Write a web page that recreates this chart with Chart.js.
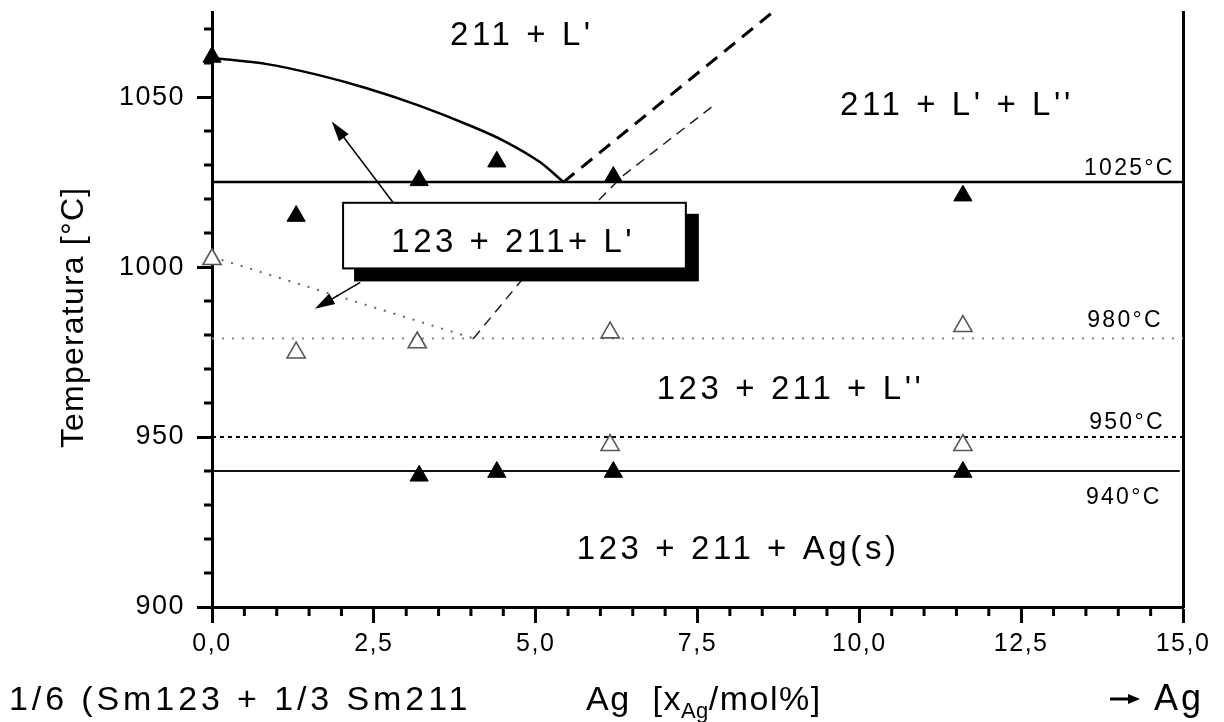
<!DOCTYPE html>
<html>
<head>
<meta charset="utf-8">
<title>Sm123 + Ag phase diagram</title>
<script src="https://cdn.jsdelivr.net/npm/chart.js@4.4.1/dist/chart.umd.min.js"></script>
<style>
  html, body { margin: 0; padding: 0; background: #fff; }
  #wrap { width: 1224px; height: 722px; }
</style>
</head>
<body>
<div id="wrap"><canvas id="phaseChart" width="1224" height="722"></canvas></div>
<script>
// ticks
const xMajorTicks = [0, 2.5, 5, 7.5, 10, 12.5, 15];
const xTickLabels = ["0,0", "2,5", "5,0", "7,5", "10,0", "12,5", "15,0"];
const yMajorTicks = [900, 950, 1000, 1050];
const yTickLabels = ["900", "950", "1000", "1050"];
const xMinorStep = 0.5;
const yMinorStep = 10;

// measured points (filled / open triangles)
const filledX = [0, 1.3, 3.2, 4.4, 6.2, 11.6, 3.2, 4.4, 6.2, 11.6];
const filledT = [1061.8, 1015, 1025.5, 1031, 1026.5, 1021, 938.6, 939.7, 939.7, 939.7];
const openX = [0, 1.3, 3.17, 6.15, 11.6, 6.15, 11.6];
const openT = [1002.3, 974.8, 977.8, 980.7, 982.6, 947.6, 947.6];

// phase boundaries
const liquidusX = [0, 0.85, 1.62, 2.39, 3.2, 4.0, 4.5, 5.07, 5.43];
const liquidusT = [1061.5, 1059.7, 1056.6, 1052.6, 1047.5, 1041.5, 1037.2, 1030.8, 1025];
const missX = [5.43, 8.65];
const missT = [1025, 1074.8];
const miss2X = [4.04, 4.76, 5.97, 6.35, 7.74];
const miss2T = [979, 995.6, 1019.6, 1026.9, 1047.4];
const dottedX = [0, 4.04];
const dottedT = [1003, 979];

// isotherms
const isoX = [0, 15];
const iso940X = [0, 14.95];
const iso1025 = 1025, iso980 = 979, iso950 = 950, iso940 = 940;

// text annotations
const regionLabels = ["211 + L'", "211 + L' + L''", "123 + 211 + L''", "123 + 211 + Ag(s)"];
const regionX = [4.76, 11.48, 8.91, 8.1];
const regionT = [1065.2, 1044.7, 961.2, 914.1];
const isoLabels = ["1025°C", "980°C", "950°C", "940°C"];
const isoLabelX = [13.47, 13.52, 13.55, 13.5];
const isoLabelT = [1027.2, 982.3, 952.3, 930.4];
const boxLabel = "123 + 211+ L'";
const boxX = [2.025, 7.32];
const boxT = [999.6, 1018.9];
const arrowFrom = [[2.8, 1018.9], [2.29, 995.5]];
const arrowTo = [[1.85, 1042.8], [1.59, 987.7]];

const FONT = "'Liberation Sans', Arial, Helvetica, sans-serif";

function pts(xs, ys) {
  return xs.map((x, i) => ({ x: x, y: ys[i] }));
}
function flat(xs, t) {
  return xs.map(x => ({ x: x, y: t }));
}

function putText(ctx, str, x, y, size, spacing, align) {
  ctx.font = size + "px " + FONT;
  ctx.letterSpacing = spacing + "px";
  ctx.textAlign = "left";
  ctx.textBaseline = "alphabetic";
  const w = ctx.measureText(str).width;
  let x0 = x;
  if (align === "center") x0 = x - (w - spacing) / 2;
  if (align === "right") x0 = x - (w - spacing);
  ctx.fillText(str, x0, y);
  return x0 + w;
}

function arrow(ctx, x1, y1, x2, y2, len, half) {
  const a = Math.atan2(y2 - y1, x2 - x1);
  ctx.beginPath();
  ctx.moveTo(x1, y1);
  ctx.lineTo(x2 - Math.cos(a) * len * 0.8, y2 - Math.sin(a) * len * 0.8);
  ctx.stroke();
  ctx.beginPath();
  ctx.moveTo(x2, y2);
  ctx.lineTo(x2 - Math.cos(a) * len + Math.sin(a) * half, y2 - Math.sin(a) * len - Math.cos(a) * half);
  ctx.lineTo(x2 - Math.cos(a) * len - Math.sin(a) * half, y2 - Math.sin(a) * len + Math.cos(a) * half);
  ctx.closePath();
  ctx.fill();
}

const phasePlugin = {
  id: "phaseExtras",
  beforeDraw(chart) {
    chart.ctx.letterSpacing = "1.5px";
  },
  afterDraw(chart) {
    const ctx = chart.ctx;
    const xs = chart.scales.x, ys = chart.scales.y;
    const area = chart.chartArea;
    ctx.save();
    ctx.fillStyle = "#000";
    ctx.strokeStyle = "#000";

    // minor ticks
    ctx.lineWidth = 3;
    ctx.beginPath();
    for (let v = 0; v <= 15; v += xMinorStep) {
      if (xMajorTicks.includes(v)) continue;
      const p = xs.getPixelForValue(v);
      ctx.moveTo(p, area.bottom);
      ctx.lineTo(p, area.bottom + 9);
    }
    for (let v = 900; v <= 1070; v += yMinorStep) {
      if (yMajorTicks.includes(v)) continue;
      const p = ys.getPixelForValue(v);
      ctx.moveTo(area.left - 8, p);
      ctx.lineTo(area.left, p);
    }
    ctx.stroke();

    // box with drop shadow
    const bl = xs.getPixelForValue(boxX[0]), br = xs.getPixelForValue(boxX[1]);
    const bt = ys.getPixelForValue(boxT[1]), bb = ys.getPixelForValue(boxT[0]);
    ctx.fillRect(bl + 11, bt + 11, br - bl + 2, bb - bt + 2);
    ctx.fillStyle = "#fff";
    ctx.fillRect(bl, bt, br - bl, bb - bt);
    ctx.lineWidth = 2;
    ctx.strokeRect(bl, bt, br - bl, bb - bt);
    ctx.fillStyle = "#000";
    putText(ctx, boxLabel, (bl + br) / 2 - 3, ys.getPixelForValue(1004.3), 33, 3.5, "center");

    // arrows
    ctx.lineWidth = 1.5;
    arrowFrom.forEach((f, i) => {
      const t = arrowTo[i];
      arrow(ctx, xs.getPixelForValue(f[0]), ys.getPixelForValue(f[1]),
                 xs.getPixelForValue(t[0]), ys.getPixelForValue(t[1]), 20, 6);
    });

    // region labels
    regionLabels.forEach((s, i) => {
      putText(ctx, s, xs.getPixelForValue(regionX[i]), ys.getPixelForValue(regionT[i]), 33, 3.6, "center");
    });
    // isotherm labels
    isoLabels.forEach((s, i) => {
      putText(ctx, s, xs.getPixelForValue(isoLabelX[i]), ys.getPixelForValue(isoLabelT[i]), 23, 2.3, "left");
    });

    // axis captions
    putText(ctx, "1/6 (Sm123 + 1/3 Sm211", 9, 710, 34, 3.9, "left");
    let cx = putText(ctx, "Ag  [x", 586, 710, 34, 1.5, "left");
    cx = putText(ctx, "Ag", cx - 1, 718, 22, 0.5, "left");
    putText(ctx, "/mol%]", cx, 710, 34, 1.5, "left");
    ctx.lineWidth = 3;
    arrow(ctx, 1110, 699, 1140, 699, 12, 5);
    putText(ctx, "Ag", 1154, 710, 36, 3, "left");

    // y title
    ctx.save();
    ctx.translate(83, 318);
    ctx.rotate(-Math.PI / 2);
    putText(ctx, "Temperatura [°C]", 0, 0, 32, 1.2, "center");
    ctx.restore();

    ctx.restore();
  }
};

const lineBase = { showLine: true, pointRadius: 0, fill: false, borderColor: "#000" };

function noPad(s) {
  s.paddingTop = 0; s.paddingBottom = 0; s.paddingLeft = 0; s.paddingRight = 0;
}

new Chart(document.getElementById("phaseChart"), {
  type: "scatter",
  data: {
    datasets: [
      { label: "filled", data: pts(filledX, filledT), pointStyle: "triangle", pointRadius: 10.5,
        backgroundColor: "#000", borderColor: "#000", borderWidth: 1, clip: false },
      { label: "open", data: pts(openX, openT), pointStyle: "triangle", pointRadius: 10.5,
        backgroundColor: "#fff", borderColor: "#555", borderWidth: 1.6, clip: false },
      Object.assign({ label: "liquidus", data: pts(liquidusX, liquidusT), borderWidth: 2.5,
        cubicInterpolationMode: "monotone" }, lineBase),
      Object.assign({ label: "miscibility", data: pts(missX, missT), borderWidth: 3, borderDash: [14, 9] }, lineBase),
      Object.assign({ label: "miscibility 2", data: pts(miss2X, miss2T), borderWidth: 1.5, borderDash: [10, 7] },
        lineBase, { borderColor: "#222" }),
      Object.assign({ label: "dotted", data: pts(dottedX, dottedT), borderWidth: 2, borderDash: [2, 8] },
        lineBase, { borderColor: "#666" }),
      Object.assign({ label: "1025", data: flat(isoX, iso1025), borderWidth: 2.5 }, lineBase),
      Object.assign({ label: "980", data: flat(isoX, iso980), borderWidth: 2, borderDash: [2, 8] },
        lineBase, { borderColor: "#888" }),
      Object.assign({ label: "950", data: flat(isoX, iso950), borderWidth: 2, borderDash: [4, 4] }, lineBase),
      Object.assign({ label: "940", data: flat(iso940X, iso940), borderWidth: 2 }, lineBase, { borderColor: "#111" })
    ]
  },
  options: {
    responsive: false,
    animation: false,
    layout: { padding: { top: 8, right: 41, left: 0, bottom: 0 } },
    plugins: { legend: { display: false }, tooltip: { enabled: false } },
    scales: {
      x: {
        type: "linear", min: 0, max: 15,
        afterBuildTicks: s => { s.ticks = xMajorTicks.map(v => ({ value: v })); },
        afterFit: s => { s.height = 115; noPad(s); },
        ticks: {
          autoSkip: false, maxRotation: 0, padding: 6, color: "#000",
          font: { family: FONT, size: 25 },
          callback: v => xTickLabels[xMajorTicks.indexOf(v)]
        },
        grid: { drawOnChartArea: false, tickLength: 16, tickWidth: 3, tickColor: "#000" },
        border: { width: 3, color: "#000" }
      },
      y: {
        type: "linear", min: 900, max: 1075,
        afterBuildTicks: s => { s.ticks = yMajorTicks.map(v => ({ value: v })); },
        afterFit: s => { s.width = 212; noPad(s); },
        ticks: {
          padding: 12, color: "#000",
          font: { family: FONT, size: 27 },
          callback: v => yTickLabels[yMajorTicks.indexOf(v)]
        },
        grid: { drawOnChartArea: false, tickLength: 15, tickWidth: 3, tickColor: "#000" },
        border: { width: 3, color: "#000" }
      },
      y2: {
        position: "right", display: true,
        afterFit: s => { s.width = 0; noPad(s); },
        ticks: { display: false },
        grid: { drawOnChartArea: false, drawTicks: false },
        border: { width: 3, color: "#000" }
      }
    }
  },
  plugins: [phasePlugin]
});
</script>
</body>
</html>
